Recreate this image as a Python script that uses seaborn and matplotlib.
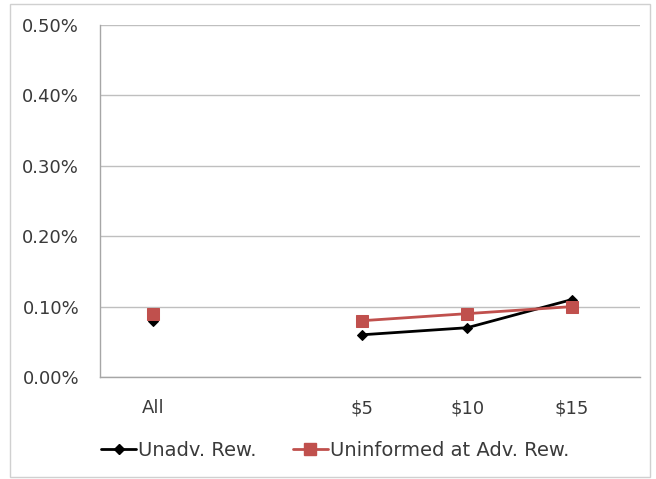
import matplotlib
matplotlib.use("Agg")
import matplotlib.pyplot as plt
from matplotlib.lines import Line2D
from matplotlib.patches import Rectangle
from matplotlib.ticker import FuncFormatter, MultipleLocator
import seaborn as sns
import pandas as pd

# Categories (an empty slot separates the overall value from the reward levels)
categories = ["All", "", "$5", "$10", "$15"]
unadv_rew = [0.0008, None, 0.0006, 0.0007, 0.0011]
uninformed_adv_rew = [0.0009, None, 0.0008, 0.0009, 0.0010]
series_names = ["Unadv. Rew.", "Uninformed at Adv. Rew."]

rows = []
for name, vals in zip(series_names, [unadv_rew, uninformed_adv_rew]):
    for i, (cat, v) in enumerate(zip(categories, vals)):
        if v is None:
            continue
        rows.append({"pos": i, "cat": cat, "value": v, "series": name,
                     "segment": "overall" if i == 0 else "rewards"})
df = pd.DataFrame(rows)

sns.set_theme(style="white")
plt.rcParams["font.family"] = ["DejaVu Sans"]
FS = 13
LEG_FS = 14
TXT = "#3a3a3a"

fig = plt.figure(figsize=(6.56, 4.79), dpi=100)
ax = fig.add_axes([100 / 656, 1 - 377 / 479, 540 / 656, 352 / 479])

colors = {"Unadv. Rew.": "#000000", "Uninformed at Adv. Rew.": "#C0504D"}
markers = {"Unadv. Rew.": "D", "Uninformed at Adv. Rew.": "s"}
msizes = {"Unadv. Rew.": 5, "Uninformed at Adv. Rew.": 8}

for name in series_names:
    sub = df[df["series"] == name]
    sns.lineplot(data=sub, x="pos", y="value", units="segment", estimator=None,
                 color=colors[name], marker=markers[name], markersize=msizes[name],
                 markeredgecolor=colors[name], linewidth=2, ax=ax, legend=False,
                 zorder=3)

ax.set_xlim(-0.506, 4.65)
ax.set_ylim(0, 0.005)
ax.yaxis.set_major_locator(MultipleLocator(0.001))
ax.yaxis.set_major_formatter(FuncFormatter(lambda v, _: f"{v * 100:.2f}%"))
ax.set_xticks(range(len(categories)))
ax.set_xticklabels(categories)
ax.set_xlabel("")
ax.set_ylabel("")
ax.grid(axis="y", color="#BFBFBF", linewidth=1)
ax.grid(axis="x", visible=False)
for side in ["top", "right"]:
    ax.spines[side].set_visible(False)
for side in ["left", "bottom"]:
    ax.spines[side].set_color("#A6A6A6")
    ax.spines[side].set_linewidth(1)
ax.tick_params(axis="y", length=0, pad=15, labelsize=FS, colors=TXT)
ax.tick_params(axis="x", length=0, pad=16, labelsize=FS, colors=TXT)

handles = [
    Line2D([], [], color="#000000", marker="D", markersize=5, linewidth=2),
    Line2D([], [], color="#C0504D", marker="s", markersize=8, linewidth=2),
]
fig.legend(handles, series_names, loc="center", bbox_to_anchor=(0.511, 1 - 450 / 479),
           ncol=2, frameon=False, fontsize=LEG_FS, handlelength=1.8, handletextpad=0.1,
           columnspacing=1.85, labelcolor=TXT)

fig.patches.append(Rectangle((10 / 656, 2 / 479), 640 / 656, 473 / 479,
                             transform=fig.transFigure, fill=False,
                             edgecolor="#D0D0D0", linewidth=1))

fig.savefig("out.png", dpi=100)
